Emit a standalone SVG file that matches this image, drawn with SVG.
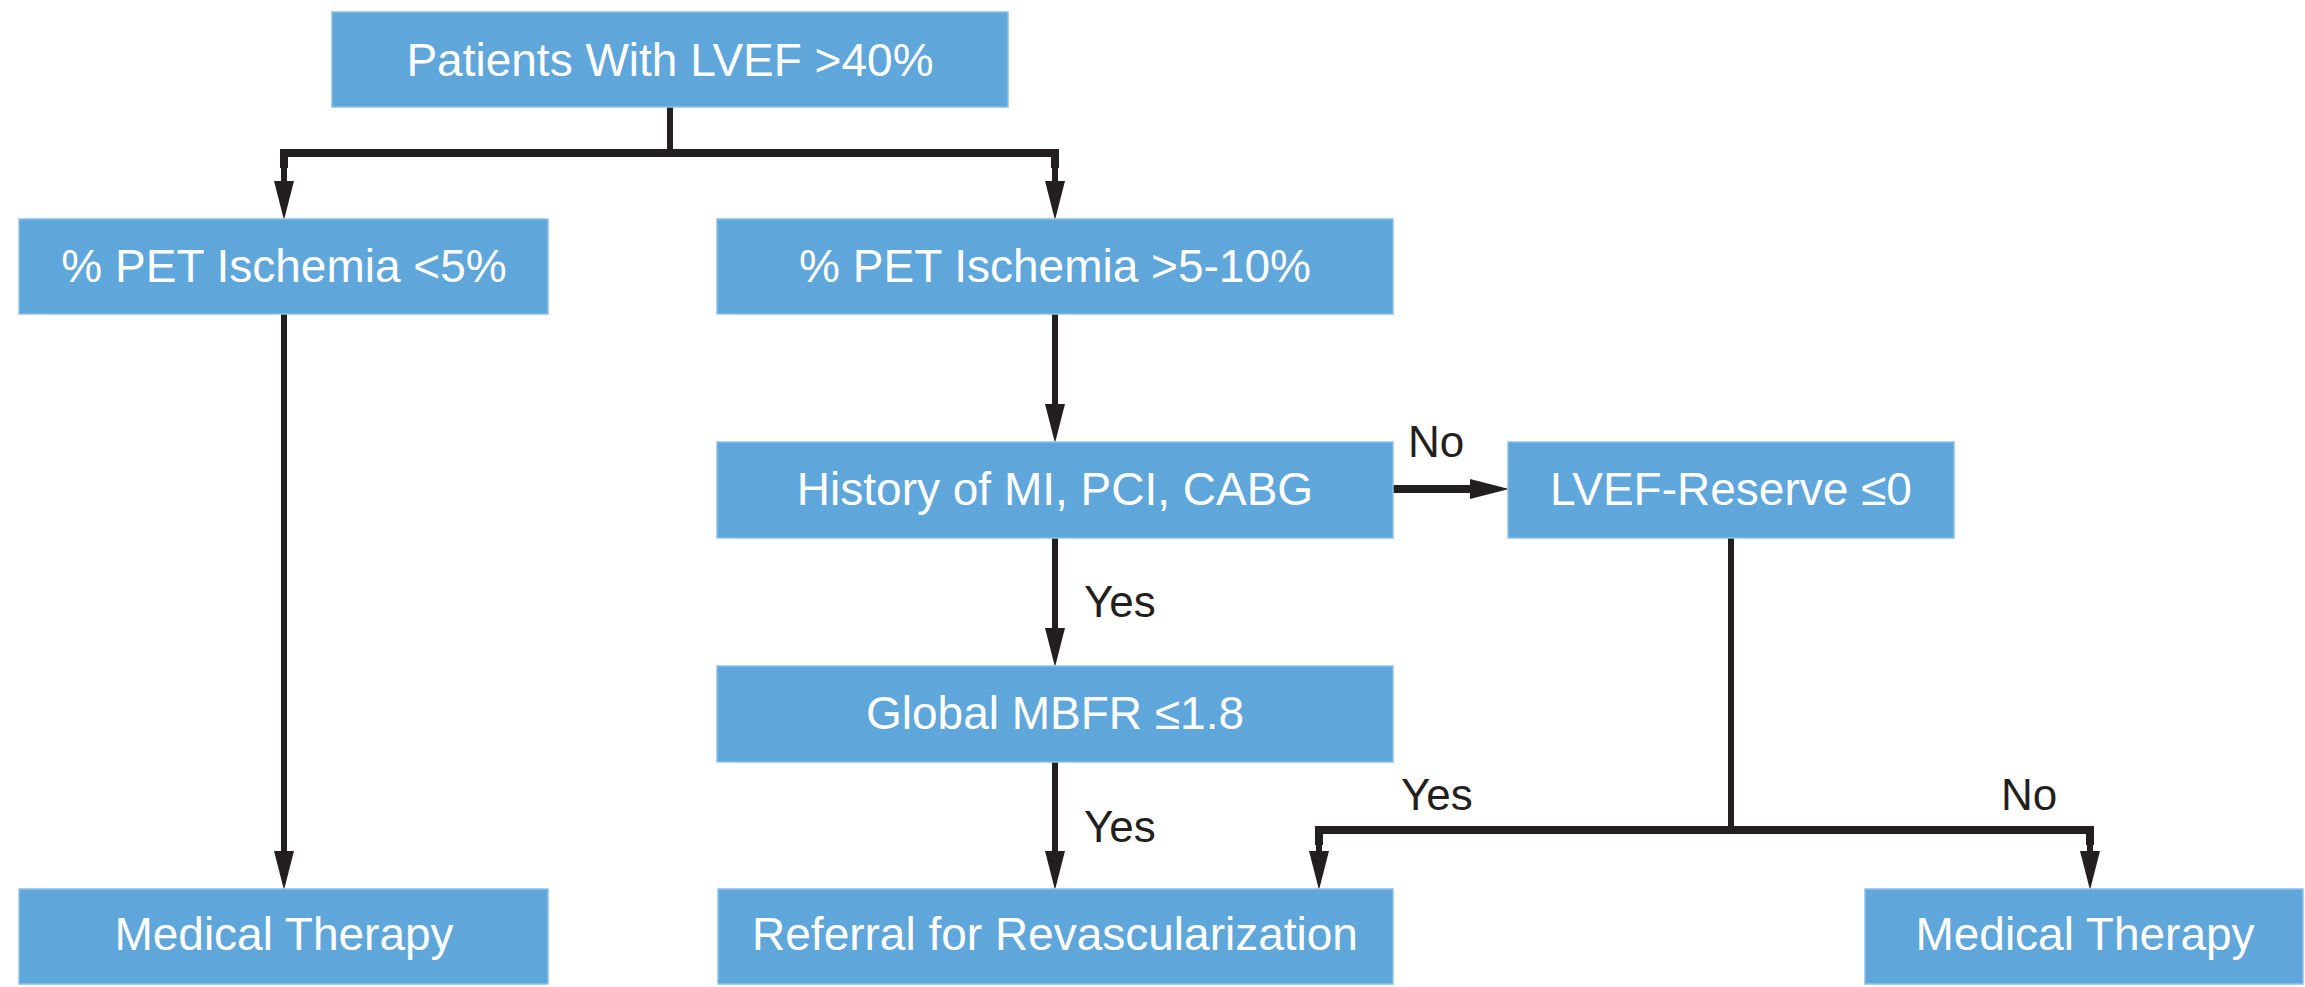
<svg xmlns="http://www.w3.org/2000/svg" width="2305" height="987" viewBox="0 0 2305 987">
<style>
.box{fill:#5fa6da;stroke:#8cc0e6;stroke-width:1.5}
.t{font-family:"Liberation Sans",Arial,sans-serif;font-size:46px;fill:#ffffff;text-anchor:middle}
.lbl{font-family:"Liberation Sans",Arial,sans-serif;font-size:44px;fill:#231f20}
.ln{fill:none;stroke:#231f20;stroke-width:6}
.bar{fill:none;stroke:#231f20;stroke-width:8;stroke-linejoin:miter}
</style>
<defs>
<marker id="ah" markerUnits="userSpaceOnUse" markerWidth="40" markerHeight="22" refX="0" refY="10" orient="auto" viewBox="0 0 40 20">
<path d="M0,0 L39,10 L0,20 Z" fill="#231f20"/>
</marker>
</defs>
<rect width="2305" height="987" fill="#ffffff"/>
<g id="connectors">
<line class="ln" x1="670" y1="107" x2="670" y2="153"/>
<polyline class="bar" points="284,168 284,153 1055,153 1055,168"/>
<line class="ln" x1="284" y1="153" x2="284" y2="181" marker-end="url(#ah)"/>
<line class="ln" x1="1055" y1="153" x2="1055" y2="181" marker-end="url(#ah)"/>
<line class="ln" x1="284" y1="313" x2="284" y2="851" marker-end="url(#ah)"/>
<line class="ln" x1="1055" y1="313" x2="1055" y2="404" marker-end="url(#ah)"/>
<line class="ln" x1="1055" y1="538" x2="1055" y2="628" marker-end="url(#ah)"/>
<line class="ln" x1="1055" y1="762" x2="1055" y2="851" marker-end="url(#ah)"/>
<line class="bar" x1="1393" y1="489" x2="1470" y2="489" marker-end="url(#ah)"/>
<line class="ln" x1="1731" y1="538" x2="1731" y2="830"/>
<polyline class="bar" points="1319,845 1319,830 2090,830 2090,845"/>
<line class="ln" x1="1319" y1="830" x2="1319" y2="851" marker-end="url(#ah)"/>
<line class="ln" x1="2090" y1="830" x2="2090" y2="851" marker-end="url(#ah)"/>
<text class="lbl" x="1408" y="457">No</text>
<text class="lbl" x="1084" y="617">Yes</text>
<text class="lbl" x="1084" y="842">Yes</text>
<text class="lbl" x="1401" y="810">Yes</text>
<text class="lbl" x="2001" y="810">No</text>
</g>
<g id="n_top"><rect class="box" x="332" y="12" width="676" height="95"/><text class="t" x="670" y="76">Patients With LVEF &gt;40%</text></g>
<g id="n_low"><rect class="box" x="19" y="219" width="529" height="95"/><text class="t" x="284" y="282">% PET Ischemia &lt;5%</text></g>
<g id="n_high"><rect class="box" x="717" y="219" width="676" height="95"/><text class="t" x="1055" y="282">% PET Ischemia &gt;5-10%</text></g>
<g id="n_hist"><rect class="box" x="717" y="442" width="676" height="96"/><text class="t" x="1055" y="505">History of MI, PCI, CABG</text></g>
<g id="n_lvef"><rect class="box" x="1508" y="442" width="446" height="96"/><text class="t" x="1731" y="505">LVEF-Reserve ≤0</text></g>
<g id="n_mbfr"><rect class="box" x="717" y="666" width="676" height="96"/><text class="t" x="1055" y="729">Global MBFR ≤1.8</text></g>
<g id="n_med1"><rect class="box" x="19" y="889" width="529" height="95"/><text class="t" x="284" y="950">Medical Therapy</text></g>
<g id="n_ref"><rect class="box" x="718" y="889" width="675" height="95"/><text class="t" x="1055" y="950">Referral for Revascularization</text></g>
<g id="n_med2"><rect class="box" x="1865" y="889" width="438" height="95"/><text class="t" x="2085" y="950">Medical Therapy</text></g>
</svg>
